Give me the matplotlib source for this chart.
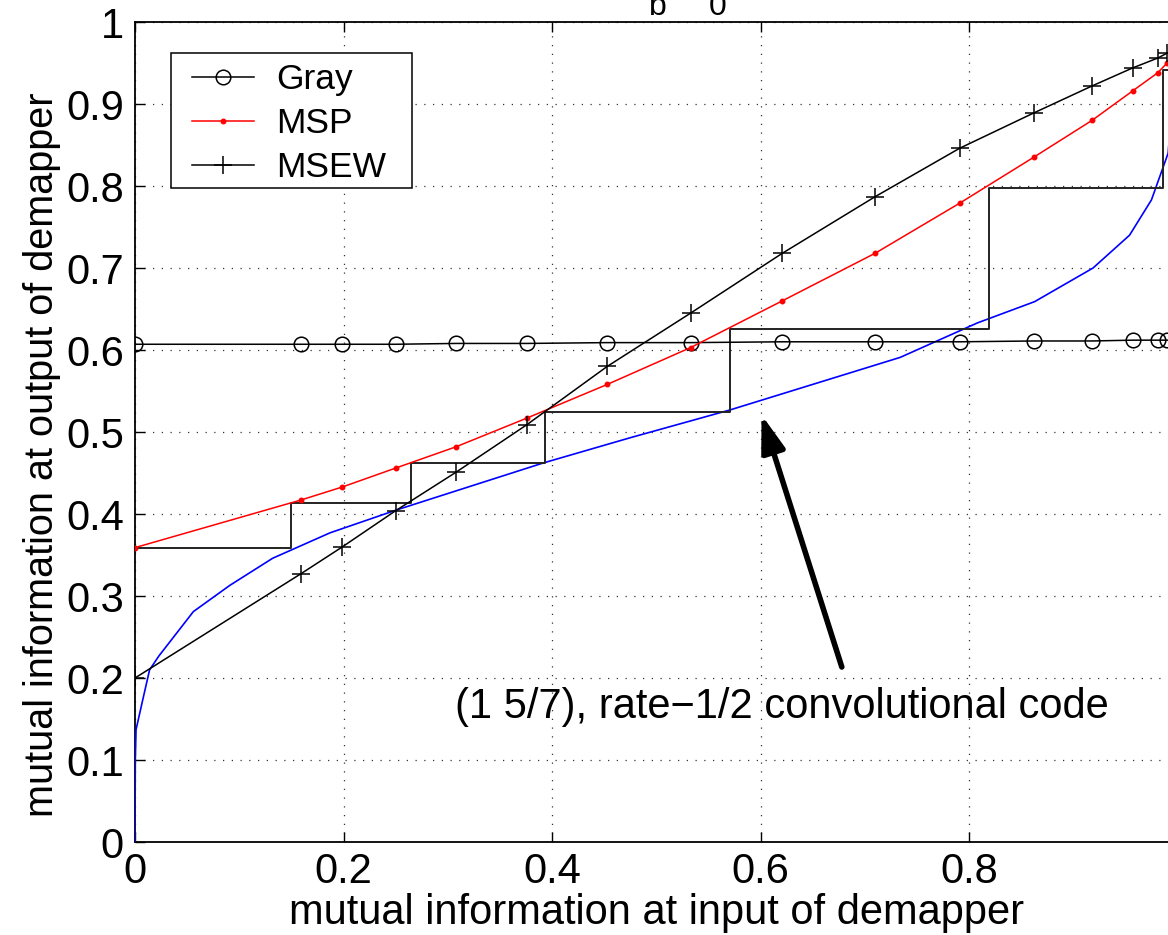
import matplotlib
matplotlib.use("Agg")
import matplotlib.pyplot as plt
from matplotlib.patches import Rectangle

plt.rcParams['font.family'] = ['Liberation Sans', 'DejaVu Sans']

# ---------------- data ----------------
x_ia = [0.0, 0.159, 0.199, 0.250, 0.308, 0.376, 0.453, 0.533, 0.621, 0.710,
        0.791, 0.862, 0.918, 0.957, 0.981, 0.990, 1.0]
gray_ie = [0.607, 0.607, 0.607, 0.607, 0.608, 0.608, 0.609, 0.609, 0.610, 0.610,
           0.610, 0.611, 0.611, 0.612, 0.612, 0.612, 0.612]
msp_ie = [0.359, 0.417, 0.433, 0.456, 0.482, 0.517, 0.558, 0.603, 0.660, 0.718,
          0.779, 0.835, 0.880, 0.916, 0.938, 0.950, 0.958]
msew_ie = [0.200, 0.327, 0.360, 0.404, 0.451, 0.509, 0.580, 0.645, 0.718, 0.787,
           0.846, 0.889, 0.922, 0.944, 0.956, 0.962, 0.966]

code_x = [0.0, 0.0003, 0.001, 0.007, 0.014, 0.023, 0.056, 0.091, 0.132, 0.187,
          0.251, 0.391, 0.475, 0.571, 0.734, 0.808, 0.863, 0.919, 0.954, 0.975,
          0.991, 1.0]
code_y = [0.0, 0.100, 0.137, 0.171, 0.210, 0.227, 0.281, 0.313, 0.346, 0.377,
          0.405, 0.462, 0.493, 0.527, 0.591, 0.633, 0.659, 0.700, 0.740, 0.783,
          0.840, 0.98]

traj_x = [0.0, 0.150, 0.150, 0.265, 0.265, 0.393, 0.393, 0.571, 0.571, 0.819,
          0.819, 0.986, 0.986, 1.0]
traj_y = [0.358, 0.358, 0.413, 0.413, 0.462, 0.462, 0.525, 0.525, 0.626, 0.626,
          0.798, 0.798, 0.941, 0.941]

ticks = [0, 0.1, 0.2, 0.3, 0.4, 0.5, 0.6, 0.7, 0.8, 0.9, 1]
xticks = [0, 0.2, 0.4, 0.6, 0.8, 1]
ytick_labels = ['0', '0.1', '0.2', '0.3', '0.4', '0.5', '0.6', '0.7', '0.8', '0.9', '1']
xtick_labels = ['0', '0.2', '0.4', '0.6', '0.8', '1']

annot_text = '(1 5/7), rate\u22121/2 convolutional code'
arrow_tip = (0.601, 0.521)
arrow_tail = (0.678, 0.2134)

# ---------------- figure ----------------
W, H = 1168, 935
AX_W, AX_H = 1177.5 - 135, 820
fig = plt.figure(figsize=(W / 100, H / 100), dpi=100)
ax = fig.add_axes([135 / W, 93 / H, AX_W / W, AX_H / H])

FS = 30

ax.plot(code_x, code_y, color='#0000ff', lw=1.2, zorder=3)
ax.plot(traj_x, traj_y, color='#222222', lw=1.4, zorder=3)
ax.plot(x_ia, gray_ie, color='k', lw=1.1, marker='o', ms=10.5, mfc='none',
        mec='k', mew=1.1, label='Gray', zorder=4)
ax.plot(x_ia, msp_ie, color='#ff0000', lw=1.1, marker='.', ms=6.5, label='MSP', zorder=4)
ax.plot(x_ia, msew_ie, color='k', lw=1.1, marker='+', ms=13, mew=1.1,
        label='MSEW', zorder=4)

ax.annotate('', xy=arrow_tip, xytext=arrow_tail,
            arrowprops=dict(arrowstyle='-|>,head_length=1.1,head_width=0.36',
                            lw=4, color='k', shrinkA=0, shrinkB=0,
                            mutation_scale=20))
ax.text(0.307, 0.1646, annot_text, fontsize=FS, va='center', ha='left')

ax.set_xlim(0, 1)
ax.set_ylim(0, 1)
ax.set_xticks(xticks)
ax.set_xticklabels(xtick_labels)
ax.set_yticks(ticks)
ax.set_yticklabels(ytick_labels)
ax.tick_params(direction='in', length=7, width=1, top=True, right=True,
               labelsize=FS, pad=7)
ax.tick_params(axis='y', pad=8)
ax.grid(True, color='k', linestyle=(0, (1, 6)), lw=0.9, alpha=0.8)
for s in ax.spines.values():
    s.set_linewidth(1.3)

ax.set_xlabel('mutual information at input of demapper', fontsize=FS, labelpad=1)
ax.set_ylabel('mutual information at output of demapper', fontsize=28.5)
ax.yaxis.set_label_coords(-0.071, 0.472)

# legend box (MATLAB-style frame) + entries
ax.add_patch(Rectangle((36 / AX_W, (842 - 188) / AX_H), 241 / AX_W, 135 / AX_H,
                       transform=ax.transAxes, facecolor='white', edgecolor='k',
                       lw=1.1, zorder=6))
leg = ax.legend(loc='upper left', bbox_to_anchor=(57 / AX_W, (842 - 63) / AX_H),
                borderaxespad=0, fontsize=25.5, frameon=False,
                handlelength=1.75, handletextpad=0.63,
                labelspacing=0.31, borderpad=0)
leg.set_zorder(7)

# partially visible title (only the subscripts show at the top edge)
fig.text(649 / W, 1 - 15 / H, 'b', fontsize=23, ha='left', va='baseline')
fig.text(709 / W, 1 - 15 / H, '0', fontsize=23, ha='left', va='baseline')

fig.savefig('out.png', dpi=100)
